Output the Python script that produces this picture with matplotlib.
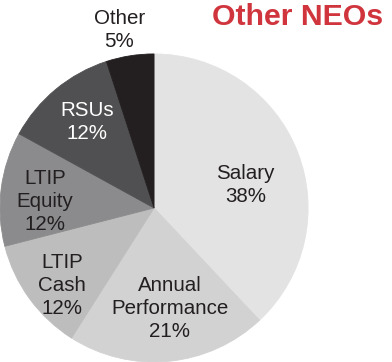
import numpy as np
import matplotlib
matplotlib.use('Agg')
import matplotlib.pyplot as plt

plt.rcParams['font.family'] = ['Liberation Sans', 'DejaVu Sans']

labels = ['Salary', 'Annual\nPerformance', 'LTIP\nCash', 'LTIP\nEquity', 'RSUs', 'Other']
shares = [38, 21, 12, 12, 12, 5]
colors = ['#e3e3e4', '#d2d2d2', '#bdbdbd', '#8b8b8d', '#505052', '#231f20']
text_colors = ['#231f20', '#231f20', '#231f20', '#231f20', '#ffffff', '#231f20']

# label placement: radius factor and angle tweak (deg) per slice
label_r = [0.61, 0.66, 0.78, 0.71, 0.71, 1.18]
label_da = [-7.6, 3.6, 4, 4, -1.6, 2]


def plot_pie():
    fig = plt.figure(figsize=(3.92, 3.62), dpi=100)
    ax = fig.add_axes([0.0, 0.0, 0.786, 0.851])
    wedges, _ = ax.pie(shares, colors=colors, startangle=90, counterclock=False,
                       radius=1.0, wedgeprops=dict(linewidth=0.6))
    for w, c in zip(wedges, colors):
        w.set_edgecolor(c)
    ax.set_xlim(-1, 1)
    ax.set_ylim(-1, 1)
    ax.set_aspect('auto')
    ax.axis('off')

    for w, lab, val, r, da, tc in zip(wedges, labels, shares, label_r, label_da, text_colors):
        ang = np.deg2rad((w.theta1 + w.theta2) / 2 + da)
        ax.text(r * np.cos(ang), r * np.sin(ang), f'{lab}\n{val}%',
                ha='center', va='center', fontsize=14.8, color=tc,
                linespacing=1.27, clip_on=False)

    fig.text(0.758, 0.953, 'Other NEOs', ha='center', va='center',
             fontsize=21.8, fontweight='bold', color='#d0343c')

    fig.savefig('out.png', dpi=100)


if __name__ == '__main__':
    plot_pie()
